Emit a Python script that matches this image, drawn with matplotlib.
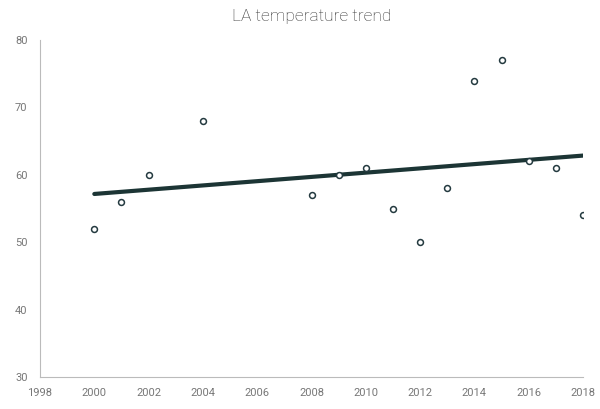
import matplotlib
matplotlib.use("Agg")
import matplotlib.pyplot as plt
import numpy as np

years = [2000, 2001, 2002, 2004, 2008, 2009, 2010, 2011, 2012, 2013, 2014, 2015, 2016, 2017, 2018]
temps = [52, 56, 60, 68, 57, 60, 61, 55, 50, 58, 74, 77, 62, 61, 54]
x_ticks = [1998, 2000, 2002, 2004, 2006, 2008, 2010, 2012, 2014, 2016, 2018]
y_ticks = [30, 40, 50, 60, 70, 80]
title = "LA temperature trend"

plt.rcParams['font.family'] = ['Roboto', 'DejaVu Sans']

fig = plt.figure(figsize=(6, 4.09), dpi=100)
ax = fig.add_axes([0.0667, 0.078, 0.905, 0.824])

dark = '#1c3535'
coef = np.polyfit(years, temps, 1)
xs = np.array([years[0], years[-1]])
ax.plot(xs, np.polyval(coef, xs), color=dark, lw=3, solid_capstyle='round', zorder=2)
ax.scatter(years, temps, s=18, facecolors='white', edgecolors='#243a40', linewidths=1.1, zorder=3)

ax.set_xlim(1998, 2018)
ax.set_ylim(30, 80)
ax.set_xticks(x_ticks)
ax.set_yticks(y_ticks)
for s in ['top', 'right']:
    ax.spines[s].set_visible(False)
for s in ['left', 'bottom']:
    ax.spines[s].set_color('#bbbbbb')
    ax.spines[s].set_linewidth(0.8)
ax.tick_params(length=0, labelsize=8, colors='#777777')
ax.tick_params(axis='x', pad=8)
ax.tick_params(axis='y', pad=9)
ax.set_title(title, fontsize=12.5, color='#333333', fontweight='light', pad=14)

fig.savefig('out.png', dpi=100)
